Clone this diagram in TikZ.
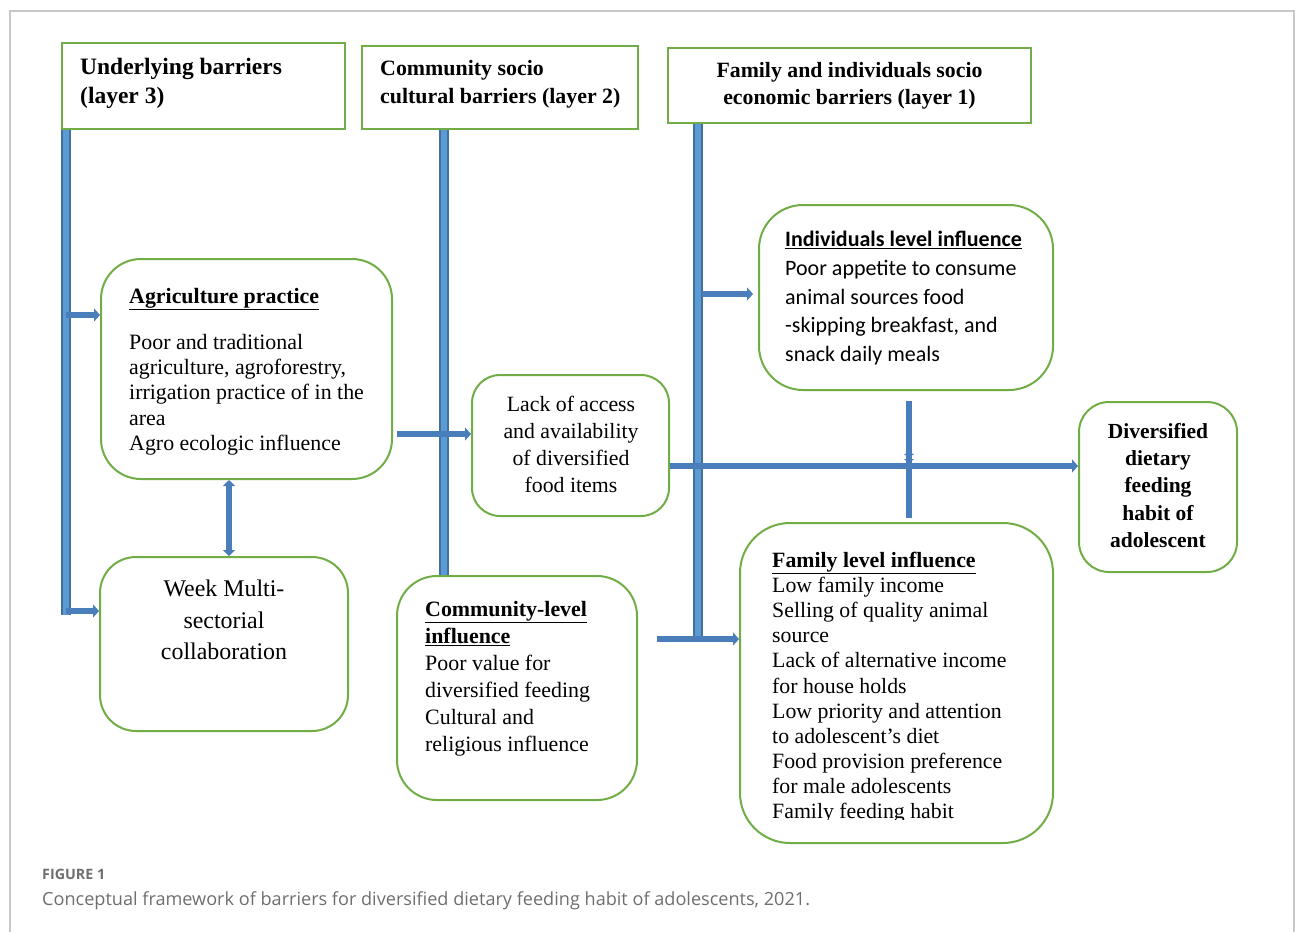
\documentclass[tikz,border=0pt]{standalone}
\usepackage{fontspec}
\setmainfont{Liberation Serif}
\newfontfamily\calibrifont{Carlito}
\newfontfamily\capfont{Open Sans}
\usetikzlibrary{arrows.meta}
\definecolor{grn}{HTML}{70AD47}
\definecolor{bfill}{HTML}{5B9BD5}
\definecolor{bdark}{HTML}{41719C}
\definecolor{barw}{HTML}{4A7EBB}
\definecolor{capgray}{HTML}{6E6E6E}
\begin{document}
\begin{tikzpicture}[x=1pt,y=-1pt,
  sqbox/.style={draw=grn, line width=2pt, inner sep=0pt},
  rbox/.style={draw=grn, line width=2pt, inner sep=0pt, rounded corners=#1},
  bar/.style={draw=bdark, line width=1.6pt, double=bfill, double distance=6.8pt},
  arw/.style={draw=barw, line width=5.5pt, -{Triangle[length=6pt,width=13pt]}},
  arwn/.style={draw=barw, line width=5.5pt},
  txt/.style={inner sep=0pt, anchor=north west, align=left},
  ctxt/.style={inner sep=0pt, anchor=north, align=center}]
\useasboundingbox (0,0) rectangle (1295,932);
% frame
\draw[black!22, line width=1.3pt] (10,932) -- (10,11) -- (1294,11) -- (1294,932);

% header boxes
\node[sqbox, minimum width=283pt, minimum height=86pt] (b3) at (203.5,86) {};
\node[sqbox, minimum width=276pt, minimum height=83pt] (b2) at (500,87.5) {};
\node[sqbox, minimum width=363pt, minimum height=75pt] (b1) at (849.5,85.5) {};
\node[txt, font=\fontsize{23.5}{29}\selectfont\bfseries] (t3) at (80,58) {Underlying barriers\\(layer 3)};
\node[txt, font=\fontsize{21.9}{28}\selectfont\bfseries] (t2) at (380,60) {Community socio\\cultural barriers (layer 2)};
\node[ctxt, font=\fontsize{21.8}{27}\selectfont\bfseries] (t1) at (849.5,62) {Family and individuals socio\\economic barriers (layer 1)};

% rounded boxes
\node[rbox=40pt, minimum width=291pt, minimum height=220pt] (agr) at (246.5,369) {};
\node[rbox=36pt, minimum width=248pt, minimum height=174pt] (week) at (224,644) {};
\node[rbox=28pt, minimum width=197pt, minimum height=141pt] (lack) at (570.5,445.5) {};
\node[rbox=40pt, minimum width=240pt, minimum height=224pt] (comm) at (517,688) {};
\node[rbox=44pt, minimum width=294pt, minimum height=185pt] (indiv) at (906,297.5) {};
\node[rbox=50pt, minimum width=313pt, minimum height=320pt] (fam) at (896.5,683) {};
\node[rbox=30pt, minimum width=158pt, minimum height=170pt] (div) at (1158,487) {};

% texts
\node[txt, font=\fontsize{21.9}{25.25}\selectfont\bfseries] (agrh) at (129,288) {\underline{Agriculture practice}};
\node[txt, font=\fontsize{21.9}{25.25}\selectfont] (agrt) at (129,334) {Poor and traditional\\agriculture, agroforestry,\\irrigation practice of in the\\area\\Agro ecologic influence};
\node[ctxt, font=\fontsize{23.9}{31.5}\selectfont] (weekt) at (224,580) {Week Multi-\\sectorial\\collaboration};
\node[ctxt, font=\fontsize{21.8}{27}\selectfont] (lackt) at (571,396) {Lack of access\\and availability\\of diversified\\food items};
\node[txt, font=\fontsize{21.9}{27}\selectfont] (commt) at (425,601) {\textbf{\underline{Community-level}}\\\textbf{\underline{influence}}\\Poor value for\\diversified feeding\\Cultural and\\religious influence};
\node[txt, font=\calibrifont\fontsize{22}{28.75}\selectfont] (indivt) at (785,231) {\textbf{\underline{Individuals level influence}}\\Poor appetite to consume\\animal sources food\\-skipping breakfast, and\\snack daily meals};
\begin{scope}
\clip (740,523) rectangle (1053,819);
\node[txt, font=\fontsize{21.8}{25.1}\selectfont] (famt) at (772,552) {\textbf{\underline{Family level influence}}\\Low family income\\Selling of quality animal\\source\\Lack of alternative income\\for house holds\\Low priority and attention\\to adolescent's diet\\Food provision preference\\for male adolescents\\Family feeding habit};
\end{scope}
\node[ctxt, font=\fontsize{21.5}{27.25}\selectfont\bfseries] (divt) at (1158,423) {Diversified\\dietary\\feeding\\habit of\\adolescent};

% coordinates for bars
\coordinate (Lbot) at (66,615);
\coordinate (Mx) at (444,0);
\coordinate (Rbot) at (698,640);
\coordinate (La) at (66,315);
\coordinate (Lb) at (66,611);
\coordinate (Ma) at (397,434);
\coordinate (Ra) at (702,294);
\coordinate (Rb) at (657,639);
\coordinate (Va) at (909,401);
\coordinate (Vb) at (909,518);
\coordinate (Vu) at (909,451);
\coordinate (Vd) at (909,463);

% bars
\draw[bar] (b3.south -| Lbot) -- (Lbot);
\draw[bar] (b2.south -| Mx) -- (comm.north -| Mx);
\draw[bar] (b1.south -| Rbot) -- (Rbot);

% arrows
\draw[arw] (La) -- (La -| agr.west);
\draw[arw] (Lb) -- (Lb -| week.west);
\draw[arw] (Ma) -- (Ma -| lack.west);
\draw[arw] (Ra) -- ([xshift=-5pt]Ra -| indiv.west);
\draw[arw] (Rb) -- (Rb -| fam.west);
\draw[arw] (lack.east |- 0,466) -- (div.west |- 0,466);
\draw[arwn] (Va) -- (Vb);
\draw[draw=barw, line width=4pt, {Triangle[length=4pt,width=10pt]}-{Triangle[length=4pt,width=10pt]}] (Vu) -- (Vd);
\draw[draw=barw, line width=5.5pt, {Triangle[length=6pt,width=12pt]}-{Triangle[length=6pt,width=12pt]}] (agr.south -| 229,0) -- (week.north -| 229,0);

% caption
\node[inner sep=0pt, anchor=west, font=\capfont\fontsize{14.3}{16}\selectfont\bfseries, text=capgray] (cap1) at (42,874) {FIGURE 1};
\node[inner sep=0pt, anchor=west, font=\capfont\fontsize{18.1}{21}\selectfont, text=capgray] (cap2) at (42,901) {Conceptual framework of barriers for diversified dietary feeding habit of adolescents, 2021.};
\end{tikzpicture}
\end{document}
